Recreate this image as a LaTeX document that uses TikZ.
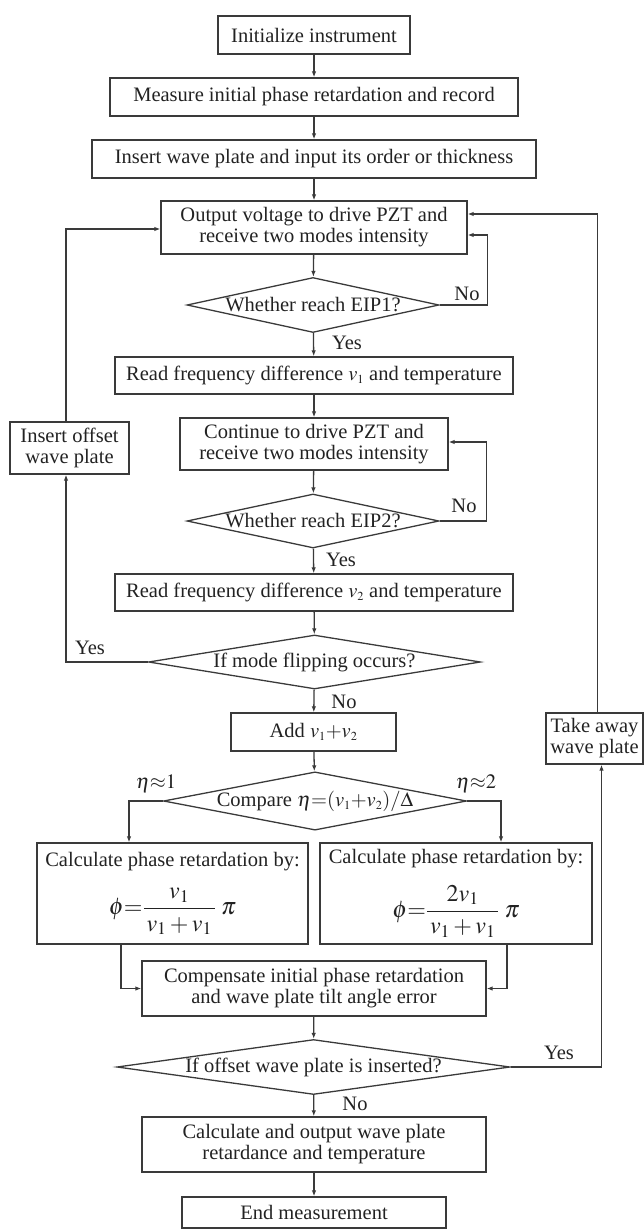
\documentclass[tikz,border=0pt]{standalone}
\usepackage{amsmath}
\usepackage{mathptmx}
\usepackage{fontspec}
\setmainfont{Liberation Serif}
\usetikzlibrary{shapes.geometric,arrows.meta}
\definecolor{flowline}{HTML}{3A3A3A}
\definecolor{flowtext}{HTML}{222222}

\begin{document}
\begin{tikzpicture}[x=1pt, y=-1pt,
    every node/.style={font=\fontsize{20.5}{21}\selectfont, text=flowtext},
    procbox/.style={rectangle, draw=flowline, line width=1.3pt, align=center, inner sep=1pt},
    decision/.style={diamond, draw=flowline, line width=1.3pt, inner sep=0pt},
    flow/.style={-{Latex[length=6pt,width=4.5pt]}, draw=flowline, line width=1.3pt}]
            \useasboundingbox (0,0) rectangle (644,1230);

            % Start
            \node[procbox, minimum width=192pt, minimum height=38pt] (init) at (314,35) {Initialize instrument};

            % Initial retardation
            \node[procbox, minimum width=408pt, minimum height=38pt] (measure) at (314,97) {Measure initial phase retardation and record};
            \draw[flow] (init) -- (measure);

            % Wave plate
            \node[procbox, minimum width=444pt, minimum height=38pt] (insertwp) at (314,159) {Insert wave plate and input its order or thickness};
            \draw[flow] (measure) -- (insertwp);

            % Drive PZT
            \node[procbox, minimum width=306pt, minimum height=53pt] (output) at (314,227.5)
                {Output voltage to drive PZT and\\receive two modes intensity};
            \draw[flow] (insertwp) -- (output);

            % EIP1
            \node[decision, aspect=4.6, minimum width=252pt, minimum height=55pt] (eipone) at (313,305) {Whether reach EIP1?};
            \draw[flow] (output) -- (eipone);
            \draw[flow] (eipone.east) -- ++(48,0) |- ([yshift=-7.5pt]output.east);
            \node (noone) at (467,294) {No};

            % Frequency difference 1
            \node[procbox, minimum width=398pt, minimum height=37pt] (readone) at (314,375.5)
                {Read frequency difference $v_{\scriptscriptstyle 1}$ and temperature};
            \draw[flow] (eipone) -- (readone);
            \node (yesone) at (347,343) {Yes};

            % Continue PZT
            \node[procbox, minimum width=268pt, minimum height=52pt] (cont) at (314,444)
                {Continue to drive PZT and\\receive two modes intensity};
            \draw[flow] (readone) -- (cont);

            % EIP2
            \node[decision, aspect=4.6, minimum width=252pt, minimum height=54pt] (eiptwo) at (313,521) {Whether reach EIP2?};
            \draw[flow] (cont) -- (eiptwo);
            \draw[flow] (eiptwo.east) -- ++(47,0) |- ([yshift=2pt]cont.east);
            \node (notwo) at (464,506) {No};

            % Frequency difference 2
            \node[procbox, minimum width=398pt, minimum height=37pt] (readtwo) at (314,592.5)
                {Read frequency difference $v_{\scriptscriptstyle 2}$ and temperature};
            \draw[flow] (eiptwo) -- (readtwo);
            \node (yestwo) at (341,560) {Yes};

            % Mode flipping
            \node[decision, aspect=6.1, minimum width=332pt, minimum height=54pt] (flip) at (314.5,662) {If mode flipping occurs?};
            \draw[flow] (readtwo) -- (flip);
            \node (yesflip) at (90,648) {Yes};

            % Offset plate
            \node[procbox, minimum width=119pt, minimum height=52pt] (offset) at (69.5,448) {Insert offset\\wave plate};
            \draw[flow] (flip.west) -| ([xshift=-3.5pt]offset.south);
            \draw[flow] ([xshift=-3.5pt]offset.north) |- ([yshift=-1.5pt]output.west);

            % Sum
            \node[procbox, minimum width=165pt, minimum height=38pt] (add) at (313.5,732)
                {Add $v_{\scriptscriptstyle 1}{+}v_{\scriptscriptstyle 2}$};
            \draw[flow] (flip) -- (add);
            \node (noflip) at (344,702) {No};

            % Compare
            \node[decision, aspect=5.2, minimum width=280pt, minimum height=54pt] (compare) at (315,801)
                {Compare $\eta{=}(v_{\scriptscriptstyle 1}{+}v_{\scriptscriptstyle 2})/\Delta$};
            \draw[flow] (add) -- (compare);
            \node (etaone) at (156,784) {$\eta{\approx}1$};
            \node (etatwo) at (476,784) {$\eta{\approx}2$};

            % Phase retardation
            \node[procbox, minimum width=271pt, minimum height=101pt] (calcone) at (172.5,893.5)
                {Calculate phase retardation by:\\[16pt]{\fontsize{24}{28}\selectfont$\phi{=}\dfrac{v_1}{\,v_1+v_1\,}\;\pi$}};
            \node[procbox, minimum width=272pt, minimum height=101pt] (calctwo) at (456,893.5)
                {Calculate phase retardation by:\\[16pt]{\fontsize{24}{28}\selectfont$\phi{=}\dfrac{2v_1}{\,v_1+v_1\,}\;\pi$}};
            \draw[flow] (compare.west) -| ([xshift=-43.5pt]calcone.north);
            \draw[flow] (compare.east) -| ([xshift=45pt]calctwo.north);

            % Compensation
            \node[procbox, minimum width=344pt, minimum height=55pt] (comp) at (314,988.5)
                {Compensate initial phase retardation\\and wave plate tilt angle error};
            \draw[flow] ([xshift=-51.5pt]calcone.south) |- (comp.west);
            \draw[flow] ([xshift=51pt]calctwo.south) |- (comp.east);

            % Offset check
            \node[decision, aspect=7.2, minimum width=393pt, minimum height=55pt] (offq) at (313.5,1067) {If offset wave plate is inserted?};
            \draw[flow] (comp) -- (offq);
            \node (yesoff) at (559,1053) {Yes};

            % Take away
            \node[procbox, minimum width=97pt, minimum height=51pt] (takeaway) at (594.5,738.5) {Take away\\wave plate};
            \draw[flow] (offq.east) -| ([xshift=7pt]takeaway.south);
            \draw[flow] ([xshift=3pt]takeaway.north) |- ([yshift=13.5pt]output.east);

            % Result
            \node[procbox, minimum width=344pt, minimum height=55pt] (calcout) at (314,1144.5)
                {Calculate and output wave plate\\retardance and temperature};
            \draw[flow] (offq) -- (calcout);
            \node (nooff) at (355,1104) {No};

            % End
            \node[procbox, minimum width=264pt, minimum height=31pt] (endm) at (314,1212.5) {End measurement};
            \draw[flow] (calcout) -- (endm);
        \end{tikzpicture}
\end{document}
